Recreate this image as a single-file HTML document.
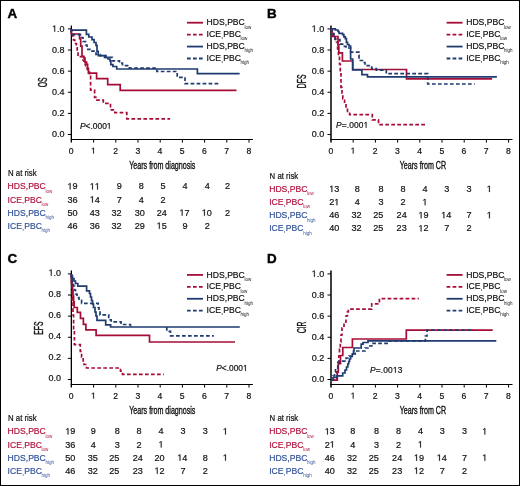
<!DOCTYPE html>
<html><head><meta charset="utf-8"><style>
html,body{margin:0;padding:0;background:#fff;}
svg{display:block;will-change:transform;font-family:"Liberation Sans", sans-serif;}
</style></head><body>
<svg width="520" height="486" viewBox="0 0 520 486" font-family='"Liberation Sans", sans-serif' fill="#111">
<rect x="0.5" y="0.5" width="519" height="485" fill="#fff" stroke="#000" stroke-width="1"/>
<g transform="translate(0,0)">
<text x="7.5" y="18.3" font-size="13.4" font-weight="bold" fill="#000" stroke="#000" stroke-width="0.4">A</text>
<path d="M71.35 25.5V142.6" stroke="#000" stroke-width="1.3" fill="none"/>
<path d="M70.7 139.5H252.9" stroke="#000" stroke-width="1.05" fill="none"/>
<path d="M67.9 134.50H71.4M67.9 113.38H71.4M67.9 92.26H71.4M67.9 71.14H71.4M67.9 50.02H71.4M67.9 28.90H71.4M93.60 139.5V142.6M115.80 139.5V142.6M138.00 139.5V142.6M160.20 139.5V142.6M182.40 139.5V142.6M204.60 139.5V142.6M226.80 139.5V142.6M249.00 139.5V142.6" stroke="#000" stroke-width="1" fill="none"/>
<text x="64.6" y="137.25" font-size="9" text-anchor="end" stroke="#111" stroke-width="0.2">0.0</text>
<text x="64.6" y="116.13" font-size="9" text-anchor="end" stroke="#111" stroke-width="0.2">0.2</text>
<text x="64.6" y="95.01" font-size="9" text-anchor="end" stroke="#111" stroke-width="0.2">0.4</text>
<text x="64.6" y="73.89" font-size="9" text-anchor="end" stroke="#111" stroke-width="0.2">0.6</text>
<text x="64.6" y="52.77" font-size="9" text-anchor="end" stroke="#111" stroke-width="0.2">0.8</text>
<text x="64.6" y="31.65" font-size="9" text-anchor="end" stroke="#111" stroke-width="0.2" class="n1"> .0</text><path transform="translate(52.08,31.65) scale(0.004395,-0.004395)" d="M515 0L515 1237L197 1010L197 1180L530 1409L696 1409L696 0Z" fill="#111" stroke="#111" stroke-width="45.5"/>
<text x="71.20" y="153.6" font-size="8.6" text-anchor="middle" stroke="#111" stroke-width="0.2">0</text>
<text x="93.40" y="153.6" font-size="8.6" text-anchor="middle" stroke="#111" stroke-width="0.2" class="n1"> </text><path transform="translate(91.01,153.60) scale(0.004199,-0.004199)" d="M515 0L515 1237L197 1010L197 1180L530 1409L696 1409L696 0Z" fill="#111" stroke="#111" stroke-width="47.6"/>
<text x="115.60" y="153.6" font-size="8.6" text-anchor="middle" stroke="#111" stroke-width="0.2">2</text>
<text x="137.80" y="153.6" font-size="8.6" text-anchor="middle" stroke="#111" stroke-width="0.2">3</text>
<text x="160.00" y="153.6" font-size="8.6" text-anchor="middle" stroke="#111" stroke-width="0.2">4</text>
<text x="182.20" y="153.6" font-size="8.6" text-anchor="middle" stroke="#111" stroke-width="0.2">5</text>
<text x="204.40" y="153.6" font-size="8.6" text-anchor="middle" stroke="#111" stroke-width="0.2">6</text>
<text x="226.60" y="153.6" font-size="8.6" text-anchor="middle" stroke="#111" stroke-width="0.2">7</text>
<text x="248.80" y="153.6" font-size="8.6" text-anchor="middle" stroke="#111" stroke-width="0.2">8</text>
<text transform="translate(129.2,168.9) scale(0.66,1)" font-size="10.8" stroke="#111" stroke-width="0.35">Years from diagnosis</text>
<text transform="translate(46.6,82.3) rotate(-90) scale(0.57,1)" font-size="12" text-anchor="middle" stroke="#111" stroke-width="0.35">OS</text>
<path d="M187 22.70H203" stroke="#a50d36" stroke-width="1.8"/>
<text x="206.6" y="25.30" font-size="8.6" stroke="#111" stroke-width="0.2">HDS,PBC<tspan font-size="4.5" dx="-0.4" dy="3.2" stroke-width="0">low</tspan></text>
<path d="M187 34.63H203" stroke="#a50d36" stroke-width="1.8" stroke-dasharray="3.7 2.3"/>
<text x="206.6" y="37.23" font-size="8.6" stroke="#111" stroke-width="0.2">ICE<tspan font-size="6.2" dx="0.3" dy="0.7">,</tspan><tspan dx="0.3" dy="-0.7">PBC</tspan><tspan font-size="4.5" dx="-0.4" dy="3.2" stroke-width="0">low</tspan></text>
<path d="M187 46.56H203" stroke="#1f3b70" stroke-width="1.8"/>
<text x="206.6" y="49.16" font-size="8.6" stroke="#111" stroke-width="0.2">HDS,PBC<tspan font-size="4.5" dx="-0.4" dy="3.2" stroke-width="0">high</tspan></text>
<path d="M187 58.49H203" stroke="#1f3b70" stroke-width="1.8" stroke-dasharray="3.7 2.3"/>
<text x="206.6" y="61.09" font-size="8.6" stroke="#111" stroke-width="0.2">ICE<tspan font-size="6.2" dx="0.3" dy="0.7">,</tspan><tspan dx="0.3" dy="-0.7">PBC</tspan><tspan font-size="4.5" dx="-0.4" dy="3.2" stroke-width="0">high</tspan></text>
<text x="80" y="128.8" font-size="8.4" stroke="#111" stroke-width="0.2" class="n1"><tspan font-style="italic">P</tspan>&lt;.000 </text><path transform="translate(106.78,128.80) scale(0.004102,-0.004102)" d="M515 0L515 1237L197 1010L197 1180L530 1409L696 1409L696 0Z" fill="#111" stroke="#111" stroke-width="48.8"/>
<text transform="translate(8,176.1) scale(0.93,1)" font-size="8.4" stroke="#111" stroke-width="0.2">N at risk</text>
<text x="7.6" y="189.40" font-size="8.6" fill="#b3153f" stroke="#b3153f" stroke-width="0.2">HDS,PBC<tspan font-size="4.5" dx="-0.4" dy="3.2" stroke-width="0">low</tspan></text>
<text x="77.55" y="189.40" font-size="9.1" text-anchor="end" stroke="#111" stroke-width="0.2" class="n1"> 9</text><path transform="translate(67.43,189.40) scale(0.004443,-0.004443)" d="M515 0L515 1237L197 1010L197 1180L530 1409L696 1409L696 0Z" fill="#111" stroke="#111" stroke-width="45.0"/>
<text x="99.85" y="189.40" font-size="9.1" text-anchor="end" stroke="#111" stroke-width="0.2" class="n1">  </text><path transform="translate(89.72,189.40) scale(0.004443,-0.004443)" d="M515 0L515 1237L197 1010L197 1180L530 1409L696 1409L696 0Z" fill="#111" stroke="#111" stroke-width="45.0"/><path transform="translate(94.77,189.40) scale(0.004443,-0.004443)" d="M515 0L515 1237L197 1010L197 1180L530 1409L696 1409L696 0Z" fill="#111" stroke="#111" stroke-width="45.0"/>
<text x="121.85" y="189.40" font-size="9.1" text-anchor="end" stroke="#111" stroke-width="0.2">9</text>
<text x="143.75" y="189.40" font-size="9.1" text-anchor="end" stroke="#111" stroke-width="0.2">8</text>
<text x="165.65" y="189.40" font-size="9.1" text-anchor="end" stroke="#111" stroke-width="0.2">5</text>
<text x="187.55" y="189.40" font-size="9.1" text-anchor="end" stroke="#111" stroke-width="0.2">4</text>
<text x="209.85" y="189.40" font-size="9.1" text-anchor="end" stroke="#111" stroke-width="0.2">4</text>
<text x="229.95" y="189.40" font-size="9.1" text-anchor="end" stroke="#111" stroke-width="0.2">2</text>
<text x="7.6" y="202.55" font-size="8.6" fill="#b3153f" stroke="#b3153f" stroke-width="0.2">ICE<tspan font-size="6.2" dx="0.3" dy="0.7">,</tspan><tspan dx="0.3" dy="-0.7">PBC</tspan><tspan font-size="4.5" dx="-0.4" dy="3.2" stroke-width="0">low</tspan></text>
<text x="77.55" y="202.55" font-size="9.1" text-anchor="end" stroke="#111" stroke-width="0.2">36</text>
<text x="99.85" y="202.55" font-size="9.1" text-anchor="end" stroke="#111" stroke-width="0.2" class="n1"> 4</text><path transform="translate(89.72,202.55) scale(0.004443,-0.004443)" d="M515 0L515 1237L197 1010L197 1180L530 1409L696 1409L696 0Z" fill="#111" stroke="#111" stroke-width="45.0"/>
<text x="121.85" y="202.55" font-size="9.1" text-anchor="end" stroke="#111" stroke-width="0.2">7</text>
<text x="143.75" y="202.55" font-size="9.1" text-anchor="end" stroke="#111" stroke-width="0.2">4</text>
<text x="165.65" y="202.55" font-size="9.1" text-anchor="end" stroke="#111" stroke-width="0.2">2</text>
<text x="7.6" y="215.70" font-size="8.6" fill="#34549a" stroke="#34549a" stroke-width="0.2">HDS,PBC<tspan font-size="4.5" dx="-0.4" dy="3.2" stroke-width="0">high</tspan></text>
<text x="77.55" y="215.70" font-size="9.1" text-anchor="end" stroke="#111" stroke-width="0.2">50</text>
<text x="99.85" y="215.70" font-size="9.1" text-anchor="end" stroke="#111" stroke-width="0.2">43</text>
<text x="121.55" y="215.70" font-size="9.1" text-anchor="end" stroke="#111" stroke-width="0.2">32</text>
<text x="144.95" y="215.70" font-size="9.1" text-anchor="end" stroke="#111" stroke-width="0.2">30</text>
<text x="166.75" y="215.70" font-size="9.1" text-anchor="end" stroke="#111" stroke-width="0.2">24</text>
<text x="189.55" y="215.70" font-size="9.1" text-anchor="end" stroke="#111" stroke-width="0.2" class="n1"> 7</text><path transform="translate(179.43,215.70) scale(0.004443,-0.004443)" d="M515 0L515 1237L197 1010L197 1180L530 1409L696 1409L696 0Z" fill="#111" stroke="#111" stroke-width="45.0"/>
<text x="211.85" y="215.70" font-size="9.1" text-anchor="end" stroke="#111" stroke-width="0.2" class="n1"> 0</text><path transform="translate(201.73,215.70) scale(0.004443,-0.004443)" d="M515 0L515 1237L197 1010L197 1180L530 1409L696 1409L696 0Z" fill="#111" stroke="#111" stroke-width="45.0"/>
<text x="229.95" y="215.70" font-size="9.1" text-anchor="end" stroke="#111" stroke-width="0.2">2</text>
<text x="7.6" y="228.85" font-size="8.6" fill="#34549a" stroke="#34549a" stroke-width="0.2">ICE<tspan font-size="6.2" dx="0.3" dy="0.7">,</tspan><tspan dx="0.3" dy="-0.7">PBC</tspan><tspan font-size="4.5" dx="-0.4" dy="3.2" stroke-width="0">high</tspan></text>
<text x="77.55" y="228.85" font-size="9.1" text-anchor="end" stroke="#111" stroke-width="0.2">46</text>
<text x="99.85" y="228.85" font-size="9.1" text-anchor="end" stroke="#111" stroke-width="0.2">36</text>
<text x="121.55" y="228.85" font-size="9.1" text-anchor="end" stroke="#111" stroke-width="0.2">32</text>
<text x="144.95" y="228.85" font-size="9.1" text-anchor="end" stroke="#111" stroke-width="0.2">29</text>
<text x="166.75" y="228.85" font-size="9.1" text-anchor="end" stroke="#111" stroke-width="0.2" class="n1"> 5</text><path transform="translate(156.62,228.85) scale(0.004443,-0.004443)" d="M515 0L515 1237L197 1010L197 1180L530 1409L696 1409L696 0Z" fill="#111" stroke="#111" stroke-width="45.0"/>
<text x="187.55" y="228.85" font-size="9.1" text-anchor="end" stroke="#111" stroke-width="0.2">9</text>
<text x="209.85" y="228.85" font-size="9.1" text-anchor="end" stroke="#111" stroke-width="0.2">2</text>
</g>
<g transform="translate(259.6,0)">
<text x="7.5" y="18.3" font-size="13.4" font-weight="bold" fill="#000" stroke="#000" stroke-width="0.4">B</text>
<path d="M71.4 25.5V142.6" stroke="#000" stroke-width="1.5" fill="none"/>
<path d="M70.7 139.5H252.9" stroke="#000" stroke-width="1.05" fill="none"/>
<path d="M67.9 134.50H71.4M67.9 113.38H71.4M67.9 92.26H71.4M67.9 71.14H71.4M67.9 50.02H71.4M67.9 28.90H71.4M93.60 139.5V142.6M115.80 139.5V142.6M138.00 139.5V142.6M160.20 139.5V142.6M182.40 139.5V142.6M204.60 139.5V142.6M226.80 139.5V142.6M249.00 139.5V142.6" stroke="#000" stroke-width="1" fill="none"/>
<text x="64.6" y="137.25" font-size="9" text-anchor="end" stroke="#111" stroke-width="0.2">0.0</text>
<text x="64.6" y="116.13" font-size="9" text-anchor="end" stroke="#111" stroke-width="0.2">0.2</text>
<text x="64.6" y="95.01" font-size="9" text-anchor="end" stroke="#111" stroke-width="0.2">0.4</text>
<text x="64.6" y="73.89" font-size="9" text-anchor="end" stroke="#111" stroke-width="0.2">0.6</text>
<text x="64.6" y="52.77" font-size="9" text-anchor="end" stroke="#111" stroke-width="0.2">0.8</text>
<text x="64.6" y="31.65" font-size="9" text-anchor="end" stroke="#111" stroke-width="0.2" class="n1"> .0</text><path transform="translate(52.08,31.65) scale(0.004395,-0.004395)" d="M515 0L515 1237L197 1010L197 1180L530 1409L696 1409L696 0Z" fill="#111" stroke="#111" stroke-width="45.5"/>
<text x="71.20" y="153.6" font-size="8.6" text-anchor="middle" stroke="#111" stroke-width="0.2">0</text>
<text x="93.40" y="153.6" font-size="8.6" text-anchor="middle" stroke="#111" stroke-width="0.2" class="n1"> </text><path transform="translate(91.01,153.60) scale(0.004199,-0.004199)" d="M515 0L515 1237L197 1010L197 1180L530 1409L696 1409L696 0Z" fill="#111" stroke="#111" stroke-width="47.6"/>
<text x="115.60" y="153.6" font-size="8.6" text-anchor="middle" stroke="#111" stroke-width="0.2">2</text>
<text x="137.80" y="153.6" font-size="8.6" text-anchor="middle" stroke="#111" stroke-width="0.2">3</text>
<text x="160.00" y="153.6" font-size="8.6" text-anchor="middle" stroke="#111" stroke-width="0.2">4</text>
<text x="182.20" y="153.6" font-size="8.6" text-anchor="middle" stroke="#111" stroke-width="0.2">5</text>
<text x="204.40" y="153.6" font-size="8.6" text-anchor="middle" stroke="#111" stroke-width="0.2">6</text>
<text x="226.60" y="153.6" font-size="8.6" text-anchor="middle" stroke="#111" stroke-width="0.2">7</text>
<text x="248.80" y="153.6" font-size="8.6" text-anchor="middle" stroke="#111" stroke-width="0.2">8</text>
<text transform="translate(140.1,168.9) scale(0.66,1)" font-size="10.8" stroke="#111" stroke-width="0.35">Years from CR</text>
<text transform="translate(46.4,81.3) rotate(-90) scale(0.57,1)" font-size="12" text-anchor="middle" stroke="#111" stroke-width="0.35">DFS</text>
<path d="M187 22.70H203" stroke="#a50d36" stroke-width="1.8"/>
<text x="206.6" y="25.30" font-size="8.6" stroke="#111" stroke-width="0.2">HDS,PBC<tspan font-size="4.5" dx="-0.4" dy="3.2" stroke-width="0">low</tspan></text>
<path d="M187 34.63H203" stroke="#a50d36" stroke-width="1.8" stroke-dasharray="3.7 2.3"/>
<text x="206.6" y="37.23" font-size="8.6" stroke="#111" stroke-width="0.2">ICE<tspan font-size="6.2" dx="0.3" dy="0.7">,</tspan><tspan dx="0.3" dy="-0.7">PBC</tspan><tspan font-size="4.5" dx="-0.4" dy="3.2" stroke-width="0">low</tspan></text>
<path d="M187 46.56H203" stroke="#1f3b70" stroke-width="1.8"/>
<text x="206.6" y="49.16" font-size="8.6" stroke="#111" stroke-width="0.2">HDS,PBC<tspan font-size="4.5" dx="-0.4" dy="3.2" stroke-width="0">high</tspan></text>
<path d="M187 58.49H203" stroke="#1f3b70" stroke-width="1.8" stroke-dasharray="3.7 2.3"/>
<text x="206.6" y="61.09" font-size="8.6" stroke="#111" stroke-width="0.2">ICE<tspan font-size="6.2" dx="0.3" dy="0.7">,</tspan><tspan dx="0.3" dy="-0.7">PBC</tspan><tspan font-size="4.5" dx="-0.4" dy="3.2" stroke-width="0">high</tspan></text>
<text x="76.3" y="127.8" font-size="8.4" letter-spacing="0.15" stroke="#111" stroke-width="0.2" class="n1"><tspan font-style="italic">P</tspan>=.000 </text><path transform="translate(103.99,127.80) scale(0.004102,-0.004102)" d="M515 0L515 1237L197 1010L197 1180L530 1409L696 1409L696 0Z" fill="#111" stroke="#111" stroke-width="48.8"/>
<text transform="translate(10.0,179.0) scale(0.93,1)" font-size="8.4" stroke="#111" stroke-width="0.2">N at risk</text>
<text x="9.6" y="192.00" font-size="8.6" fill="#b3153f" stroke="#b3153f" stroke-width="0.2">HDS,PBC<tspan font-size="4.5" dx="-0.4" dy="3.2" stroke-width="0">low</tspan></text>
<text x="79.75" y="192.00" font-size="9.1" text-anchor="end" stroke="#111" stroke-width="0.2" class="n1"> 3</text><path transform="translate(69.62,192.00) scale(0.004443,-0.004443)" d="M515 0L515 1237L197 1010L197 1180L530 1409L696 1409L696 0Z" fill="#111" stroke="#111" stroke-width="45.0"/>
<text x="100.15" y="192.00" font-size="9.1" text-anchor="end" stroke="#111" stroke-width="0.2">8</text>
<text x="124.05" y="192.00" font-size="9.1" text-anchor="end" stroke="#111" stroke-width="0.2">8</text>
<text x="145.95" y="192.00" font-size="9.1" text-anchor="end" stroke="#111" stroke-width="0.2">8</text>
<text x="167.85" y="192.00" font-size="9.1" text-anchor="end" stroke="#111" stroke-width="0.2">4</text>
<text x="189.75" y="192.00" font-size="9.1" text-anchor="end" stroke="#111" stroke-width="0.2">3</text>
<text x="212.05" y="192.00" font-size="9.1" text-anchor="end" stroke="#111" stroke-width="0.2">3</text>
<text x="232.15" y="192.00" font-size="9.1" text-anchor="end" stroke="#111" stroke-width="0.2" class="n1"> </text><path transform="translate(227.09,192.00) scale(0.004443,-0.004443)" d="M515 0L515 1237L197 1010L197 1180L530 1409L696 1409L696 0Z" fill="#111" stroke="#111" stroke-width="45.0"/>
<text x="9.6" y="205.15" font-size="8.6" fill="#b3153f" stroke="#b3153f" stroke-width="0.2">ICE<tspan font-size="6.2" dx="0.3" dy="0.7">,</tspan><tspan dx="0.3" dy="-0.7">PBC</tspan><tspan font-size="4.5" dx="-0.4" dy="3.2" stroke-width="0">low</tspan></text>
<text x="79.75" y="205.15" font-size="9.1" text-anchor="end" stroke="#111" stroke-width="0.2" class="n1">2 </text><path transform="translate(74.67,205.15) scale(0.004443,-0.004443)" d="M515 0L515 1237L197 1010L197 1180L530 1409L696 1409L696 0Z" fill="#111" stroke="#111" stroke-width="45.0"/>
<text x="100.15" y="205.15" font-size="9.1" text-anchor="end" stroke="#111" stroke-width="0.2">4</text>
<text x="124.05" y="205.15" font-size="9.1" text-anchor="end" stroke="#111" stroke-width="0.2">3</text>
<text x="145.95" y="205.15" font-size="9.1" text-anchor="end" stroke="#111" stroke-width="0.2">2</text>
<text x="167.85" y="205.15" font-size="9.1" text-anchor="end" stroke="#111" stroke-width="0.2" class="n1"> </text><path transform="translate(162.79,205.15) scale(0.004443,-0.004443)" d="M515 0L515 1237L197 1010L197 1180L530 1409L696 1409L696 0Z" fill="#111" stroke="#111" stroke-width="45.0"/>
<text x="9.6" y="218.30" font-size="8.6" fill="#34549a" stroke="#34549a" stroke-width="0.2">HDS,PBC<tspan font-size="4.5" dx="-0.4" dy="3.2" stroke-width="0">high</tspan></text>
<text x="79.75" y="218.30" font-size="9.1" text-anchor="end" stroke="#111" stroke-width="0.2">46</text>
<text x="102.05" y="218.30" font-size="9.1" text-anchor="end" stroke="#111" stroke-width="0.2">32</text>
<text x="123.75" y="218.30" font-size="9.1" text-anchor="end" stroke="#111" stroke-width="0.2">25</text>
<text x="147.15" y="218.30" font-size="9.1" text-anchor="end" stroke="#111" stroke-width="0.2">24</text>
<text x="168.95" y="218.30" font-size="9.1" text-anchor="end" stroke="#111" stroke-width="0.2" class="n1"> 9</text><path transform="translate(158.82,218.30) scale(0.004443,-0.004443)" d="M515 0L515 1237L197 1010L197 1180L530 1409L696 1409L696 0Z" fill="#111" stroke="#111" stroke-width="45.0"/>
<text x="191.75" y="218.30" font-size="9.1" text-anchor="end" stroke="#111" stroke-width="0.2" class="n1"> 4</text><path transform="translate(181.62,218.30) scale(0.004443,-0.004443)" d="M515 0L515 1237L197 1010L197 1180L530 1409L696 1409L696 0Z" fill="#111" stroke="#111" stroke-width="45.0"/>
<text x="212.05" y="218.30" font-size="9.1" text-anchor="end" stroke="#111" stroke-width="0.2">7</text>
<text x="232.15" y="218.30" font-size="9.1" text-anchor="end" stroke="#111" stroke-width="0.2" class="n1"> </text><path transform="translate(227.09,218.30) scale(0.004443,-0.004443)" d="M515 0L515 1237L197 1010L197 1180L530 1409L696 1409L696 0Z" fill="#111" stroke="#111" stroke-width="45.0"/>
<text x="9.6" y="231.45" font-size="8.6" fill="#34549a" stroke="#34549a" stroke-width="0.2">ICE<tspan font-size="6.2" dx="0.3" dy="0.7">,</tspan><tspan dx="0.3" dy="-0.7">PBC</tspan><tspan font-size="4.5" dx="-0.4" dy="3.2" stroke-width="0">high</tspan></text>
<text x="79.75" y="231.45" font-size="9.1" text-anchor="end" stroke="#111" stroke-width="0.2">40</text>
<text x="102.05" y="231.45" font-size="9.1" text-anchor="end" stroke="#111" stroke-width="0.2">32</text>
<text x="123.75" y="231.45" font-size="9.1" text-anchor="end" stroke="#111" stroke-width="0.2">25</text>
<text x="147.15" y="231.45" font-size="9.1" text-anchor="end" stroke="#111" stroke-width="0.2">23</text>
<text x="168.95" y="231.45" font-size="9.1" text-anchor="end" stroke="#111" stroke-width="0.2" class="n1"> 2</text><path transform="translate(158.82,231.45) scale(0.004443,-0.004443)" d="M515 0L515 1237L197 1010L197 1180L530 1409L696 1409L696 0Z" fill="#111" stroke="#111" stroke-width="45.0"/>
<text x="189.75" y="231.45" font-size="9.1" text-anchor="end" stroke="#111" stroke-width="0.2">7</text>
<text x="212.05" y="231.45" font-size="9.1" text-anchor="end" stroke="#111" stroke-width="0.2">2</text>
</g>
<g transform="translate(0,245)">
<text x="7.5" y="18.3" font-size="13.4" font-weight="bold" fill="#000" stroke="#000" stroke-width="0.4">C</text>
<path d="M71.35 25.5V142.6" stroke="#000" stroke-width="1.3" fill="none"/>
<path d="M70.7 139.5H252.9" stroke="#000" stroke-width="1.05" fill="none"/>
<path d="M67.9 134.50H71.4M67.9 113.38H71.4M67.9 92.26H71.4M67.9 71.14H71.4M67.9 50.02H71.4M67.9 28.90H71.4M93.60 139.5V142.6M115.80 139.5V142.6M138.00 139.5V142.6M160.20 139.5V142.6M182.40 139.5V142.6M204.60 139.5V142.6M226.80 139.5V142.6M249.00 139.5V142.6" stroke="#000" stroke-width="1" fill="none"/>
<text x="61.1" y="136.35" font-size="9" text-anchor="end" stroke="#111" stroke-width="0.2">0.0</text>
<text x="61.1" y="115.23" font-size="9" text-anchor="end" stroke="#111" stroke-width="0.2">0.2</text>
<text x="61.1" y="94.11" font-size="9" text-anchor="end" stroke="#111" stroke-width="0.2">0.4</text>
<text x="61.1" y="72.99" font-size="9" text-anchor="end" stroke="#111" stroke-width="0.2">0.6</text>
<text x="61.1" y="51.87" font-size="9" text-anchor="end" stroke="#111" stroke-width="0.2">0.8</text>
<text x="61.1" y="30.75" font-size="9" text-anchor="end" stroke="#111" stroke-width="0.2" class="n1"> .0</text><path transform="translate(48.58,30.75) scale(0.004395,-0.004395)" d="M515 0L515 1237L197 1010L197 1180L530 1409L696 1409L696 0Z" fill="#111" stroke="#111" stroke-width="45.5"/>
<text x="71.20" y="153.6" font-size="8.6" text-anchor="middle" stroke="#111" stroke-width="0.2">0</text>
<text x="93.40" y="153.6" font-size="8.6" text-anchor="middle" stroke="#111" stroke-width="0.2" class="n1"> </text><path transform="translate(91.01,153.60) scale(0.004199,-0.004199)" d="M515 0L515 1237L197 1010L197 1180L530 1409L696 1409L696 0Z" fill="#111" stroke="#111" stroke-width="47.6"/>
<text x="115.60" y="153.6" font-size="8.6" text-anchor="middle" stroke="#111" stroke-width="0.2">2</text>
<text x="137.80" y="153.6" font-size="8.6" text-anchor="middle" stroke="#111" stroke-width="0.2">3</text>
<text x="160.00" y="153.6" font-size="8.6" text-anchor="middle" stroke="#111" stroke-width="0.2">4</text>
<text x="182.20" y="153.6" font-size="8.6" text-anchor="middle" stroke="#111" stroke-width="0.2">5</text>
<text x="204.40" y="153.6" font-size="8.6" text-anchor="middle" stroke="#111" stroke-width="0.2">6</text>
<text x="226.60" y="153.6" font-size="8.6" text-anchor="middle" stroke="#111" stroke-width="0.2">7</text>
<text x="248.80" y="153.6" font-size="8.6" text-anchor="middle" stroke="#111" stroke-width="0.2">8</text>
<text transform="translate(129.2,168.9) scale(0.66,1)" font-size="10.8" stroke="#111" stroke-width="0.35">Years from diagnosis</text>
<text transform="translate(43.300000000000004,83.1) rotate(-90) scale(0.57,1)" font-size="12" text-anchor="middle" stroke="#111" stroke-width="0.35">EFS</text>
<path d="M187 29.90H203" stroke="#a50d36" stroke-width="1.8"/>
<text x="206.6" y="32.50" font-size="8.6" stroke="#111" stroke-width="0.2">HDS,PBC<tspan font-size="4.5" dx="-0.4" dy="3.2" stroke-width="0">low</tspan></text>
<path d="M187 41.83H203" stroke="#a50d36" stroke-width="1.8" stroke-dasharray="3.7 2.3"/>
<text x="206.6" y="44.43" font-size="8.6" stroke="#111" stroke-width="0.2">ICE<tspan font-size="6.2" dx="0.3" dy="0.7">,</tspan><tspan dx="0.3" dy="-0.7">PBC</tspan><tspan font-size="4.5" dx="-0.4" dy="3.2" stroke-width="0">low</tspan></text>
<path d="M187 53.76H203" stroke="#1f3b70" stroke-width="1.8"/>
<text x="206.6" y="56.36" font-size="8.6" stroke="#111" stroke-width="0.2">HDS,PBC<tspan font-size="4.5" dx="-0.4" dy="3.2" stroke-width="0">high</tspan></text>
<path d="M187 65.69H203" stroke="#1f3b70" stroke-width="1.8" stroke-dasharray="3.7 2.3"/>
<text x="206.6" y="68.29" font-size="8.6" stroke="#111" stroke-width="0.2">ICE<tspan font-size="6.2" dx="0.3" dy="0.7">,</tspan><tspan dx="0.3" dy="-0.7">PBC</tspan><tspan font-size="4.5" dx="-0.4" dy="3.2" stroke-width="0">high</tspan></text>
<text x="216.2" y="125.9" font-size="8.4" stroke="#111" stroke-width="0.2" class="n1"><tspan font-style="italic">P</tspan>&lt;.000 </text><path transform="translate(242.98,125.90) scale(0.004102,-0.004102)" d="M515 0L515 1237L197 1010L197 1180L530 1409L696 1409L696 0Z" fill="#111" stroke="#111" stroke-width="48.8"/>
<text transform="translate(8,176.1) scale(0.93,1)" font-size="8.4" stroke="#111" stroke-width="0.2">N at risk</text>
<text x="7.6" y="189.40" font-size="8.6" fill="#b3153f" stroke="#b3153f" stroke-width="0.2">HDS,PBC<tspan font-size="4.5" dx="-0.4" dy="3.2" stroke-width="0">low</tspan></text>
<text x="75.45" y="189.40" font-size="9.1" text-anchor="end" stroke="#111" stroke-width="0.2" class="n1"> 9</text><path transform="translate(65.32,189.40) scale(0.004443,-0.004443)" d="M515 0L515 1237L197 1010L197 1180L530 1409L696 1409L696 0Z" fill="#111" stroke="#111" stroke-width="45.0"/>
<text x="95.85" y="189.40" font-size="9.1" text-anchor="end" stroke="#111" stroke-width="0.2">9</text>
<text x="119.75" y="189.40" font-size="9.1" text-anchor="end" stroke="#111" stroke-width="0.2">8</text>
<text x="141.65" y="189.40" font-size="9.1" text-anchor="end" stroke="#111" stroke-width="0.2">8</text>
<text x="163.55" y="189.40" font-size="9.1" text-anchor="end" stroke="#111" stroke-width="0.2">4</text>
<text x="185.45" y="189.40" font-size="9.1" text-anchor="end" stroke="#111" stroke-width="0.2">3</text>
<text x="207.75" y="189.40" font-size="9.1" text-anchor="end" stroke="#111" stroke-width="0.2">3</text>
<text x="227.85" y="189.40" font-size="9.1" text-anchor="end" stroke="#111" stroke-width="0.2" class="n1"> </text><path transform="translate(222.79,189.40) scale(0.004443,-0.004443)" d="M515 0L515 1237L197 1010L197 1180L530 1409L696 1409L696 0Z" fill="#111" stroke="#111" stroke-width="45.0"/>
<text x="7.6" y="202.55" font-size="8.6" fill="#b3153f" stroke="#b3153f" stroke-width="0.2">ICE<tspan font-size="6.2" dx="0.3" dy="0.7">,</tspan><tspan dx="0.3" dy="-0.7">PBC</tspan><tspan font-size="4.5" dx="-0.4" dy="3.2" stroke-width="0">low</tspan></text>
<text x="75.45" y="202.55" font-size="9.1" text-anchor="end" stroke="#111" stroke-width="0.2">36</text>
<text x="95.85" y="202.55" font-size="9.1" text-anchor="end" stroke="#111" stroke-width="0.2">4</text>
<text x="119.75" y="202.55" font-size="9.1" text-anchor="end" stroke="#111" stroke-width="0.2">3</text>
<text x="141.65" y="202.55" font-size="9.1" text-anchor="end" stroke="#111" stroke-width="0.2">2</text>
<text x="163.55" y="202.55" font-size="9.1" text-anchor="end" stroke="#111" stroke-width="0.2" class="n1"> </text><path transform="translate(158.49,202.55) scale(0.004443,-0.004443)" d="M515 0L515 1237L197 1010L197 1180L530 1409L696 1409L696 0Z" fill="#111" stroke="#111" stroke-width="45.0"/>
<text x="7.6" y="215.70" font-size="8.6" fill="#34549a" stroke="#34549a" stroke-width="0.2">HDS,PBC<tspan font-size="4.5" dx="-0.4" dy="3.2" stroke-width="0">high</tspan></text>
<text x="75.45" y="215.70" font-size="9.1" text-anchor="end" stroke="#111" stroke-width="0.2">50</text>
<text x="97.75" y="215.70" font-size="9.1" text-anchor="end" stroke="#111" stroke-width="0.2">35</text>
<text x="119.45" y="215.70" font-size="9.1" text-anchor="end" stroke="#111" stroke-width="0.2">25</text>
<text x="142.85" y="215.70" font-size="9.1" text-anchor="end" stroke="#111" stroke-width="0.2">24</text>
<text x="164.65" y="215.70" font-size="9.1" text-anchor="end" stroke="#111" stroke-width="0.2">20</text>
<text x="187.45" y="215.70" font-size="9.1" text-anchor="end" stroke="#111" stroke-width="0.2" class="n1"> 4</text><path transform="translate(177.32,215.70) scale(0.004443,-0.004443)" d="M515 0L515 1237L197 1010L197 1180L530 1409L696 1409L696 0Z" fill="#111" stroke="#111" stroke-width="45.0"/>
<text x="207.75" y="215.70" font-size="9.1" text-anchor="end" stroke="#111" stroke-width="0.2">8</text>
<text x="227.85" y="215.70" font-size="9.1" text-anchor="end" stroke="#111" stroke-width="0.2" class="n1"> </text><path transform="translate(222.79,215.70) scale(0.004443,-0.004443)" d="M515 0L515 1237L197 1010L197 1180L530 1409L696 1409L696 0Z" fill="#111" stroke="#111" stroke-width="45.0"/>
<text x="7.6" y="228.85" font-size="8.6" fill="#34549a" stroke="#34549a" stroke-width="0.2">ICE<tspan font-size="6.2" dx="0.3" dy="0.7">,</tspan><tspan dx="0.3" dy="-0.7">PBC</tspan><tspan font-size="4.5" dx="-0.4" dy="3.2" stroke-width="0">high</tspan></text>
<text x="75.45" y="228.85" font-size="9.1" text-anchor="end" stroke="#111" stroke-width="0.2">46</text>
<text x="97.75" y="228.85" font-size="9.1" text-anchor="end" stroke="#111" stroke-width="0.2">32</text>
<text x="119.45" y="228.85" font-size="9.1" text-anchor="end" stroke="#111" stroke-width="0.2">25</text>
<text x="142.85" y="228.85" font-size="9.1" text-anchor="end" stroke="#111" stroke-width="0.2">23</text>
<text x="164.65" y="228.85" font-size="9.1" text-anchor="end" stroke="#111" stroke-width="0.2" class="n1"> 2</text><path transform="translate(154.52,228.85) scale(0.004443,-0.004443)" d="M515 0L515 1237L197 1010L197 1180L530 1409L696 1409L696 0Z" fill="#111" stroke="#111" stroke-width="45.0"/>
<text x="185.45" y="228.85" font-size="9.1" text-anchor="end" stroke="#111" stroke-width="0.2">7</text>
<text x="207.75" y="228.85" font-size="9.1" text-anchor="end" stroke="#111" stroke-width="0.2">2</text>
</g>
<g transform="translate(259.6,245)">
<text x="7.5" y="18.3" font-size="13.4" font-weight="bold" fill="#000" stroke="#000" stroke-width="0.4">D</text>
<path d="M71.4 25.5V142.6" stroke="#000" stroke-width="1.5" fill="none"/>
<path d="M70.7 139.5H252.9" stroke="#000" stroke-width="1.05" fill="none"/>
<path d="M67.9 134.50H71.4M67.9 113.38H71.4M67.9 92.26H71.4M67.9 71.14H71.4M67.9 50.02H71.4M67.9 28.90H71.4M93.60 139.5V142.6M115.80 139.5V142.6M138.00 139.5V142.6M160.20 139.5V142.6M182.40 139.5V142.6M204.60 139.5V142.6M226.80 139.5V142.6M249.00 139.5V142.6" stroke="#000" stroke-width="1" fill="none"/>
<text x="64.6" y="137.25" font-size="9" text-anchor="end" stroke="#111" stroke-width="0.2">0.0</text>
<text x="64.6" y="116.13" font-size="9" text-anchor="end" stroke="#111" stroke-width="0.2">0.2</text>
<text x="64.6" y="95.01" font-size="9" text-anchor="end" stroke="#111" stroke-width="0.2">0.4</text>
<text x="64.6" y="73.89" font-size="9" text-anchor="end" stroke="#111" stroke-width="0.2">0.6</text>
<text x="64.6" y="52.77" font-size="9" text-anchor="end" stroke="#111" stroke-width="0.2">0.8</text>
<text x="64.6" y="31.65" font-size="9" text-anchor="end" stroke="#111" stroke-width="0.2" class="n1"> .0</text><path transform="translate(52.08,31.65) scale(0.004395,-0.004395)" d="M515 0L515 1237L197 1010L197 1180L530 1409L696 1409L696 0Z" fill="#111" stroke="#111" stroke-width="45.5"/>
<text x="71.20" y="153.6" font-size="8.6" text-anchor="middle" stroke="#111" stroke-width="0.2">0</text>
<text x="93.40" y="153.6" font-size="8.6" text-anchor="middle" stroke="#111" stroke-width="0.2" class="n1"> </text><path transform="translate(91.01,153.60) scale(0.004199,-0.004199)" d="M515 0L515 1237L197 1010L197 1180L530 1409L696 1409L696 0Z" fill="#111" stroke="#111" stroke-width="47.6"/>
<text x="115.60" y="153.6" font-size="8.6" text-anchor="middle" stroke="#111" stroke-width="0.2">2</text>
<text x="137.80" y="153.6" font-size="8.6" text-anchor="middle" stroke="#111" stroke-width="0.2">3</text>
<text x="160.00" y="153.6" font-size="8.6" text-anchor="middle" stroke="#111" stroke-width="0.2">4</text>
<text x="182.20" y="153.6" font-size="8.6" text-anchor="middle" stroke="#111" stroke-width="0.2">5</text>
<text x="204.40" y="153.6" font-size="8.6" text-anchor="middle" stroke="#111" stroke-width="0.2">6</text>
<text x="226.60" y="153.6" font-size="8.6" text-anchor="middle" stroke="#111" stroke-width="0.2">7</text>
<text x="248.80" y="153.6" font-size="8.6" text-anchor="middle" stroke="#111" stroke-width="0.2">8</text>
<text transform="translate(140.1,168.9) scale(0.66,1)" font-size="10.8" stroke="#111" stroke-width="0.35">Years from CR</text>
<text transform="translate(46.4,82.4) rotate(-90) scale(0.57,1)" font-size="12" text-anchor="middle" stroke="#111" stroke-width="0.35">CIR</text>
<path d="M187 29.90H203" stroke="#a50d36" stroke-width="1.8"/>
<text x="206.6" y="32.50" font-size="8.6" stroke="#111" stroke-width="0.2">HDS,PBC<tspan font-size="4.5" dx="-0.4" dy="3.2" stroke-width="0">low</tspan></text>
<path d="M187 41.83H203" stroke="#a50d36" stroke-width="1.8" stroke-dasharray="3.7 2.3"/>
<text x="206.6" y="44.43" font-size="8.6" stroke="#111" stroke-width="0.2">ICE<tspan font-size="6.2" dx="0.3" dy="0.7">,</tspan><tspan dx="0.3" dy="-0.7">PBC</tspan><tspan font-size="4.5" dx="-0.4" dy="3.2" stroke-width="0">low</tspan></text>
<path d="M187 53.76H203" stroke="#1f3b70" stroke-width="1.8"/>
<text x="206.6" y="56.36" font-size="8.6" stroke="#111" stroke-width="0.2">HDS,PBC<tspan font-size="4.5" dx="-0.4" dy="3.2" stroke-width="0">high</tspan></text>
<path d="M187 65.69H203" stroke="#1f3b70" stroke-width="1.8" stroke-dasharray="3.7 2.3"/>
<text x="206.6" y="68.29" font-size="8.6" stroke="#111" stroke-width="0.2">ICE<tspan font-size="6.2" dx="0.3" dy="0.7">,</tspan><tspan dx="0.3" dy="-0.7">PBC</tspan><tspan font-size="4.5" dx="-0.4" dy="3.2" stroke-width="0">high</tspan></text>
<text x="110.4" y="127.8" font-size="8.4" letter-spacing="0.15" stroke="#111" stroke-width="0.2" class="n1"><tspan font-style="italic">P</tspan>=.00 3</text><path transform="translate(133.27,127.80) scale(0.004102,-0.004102)" d="M515 0L515 1237L197 1010L197 1180L530 1409L696 1409L696 0Z" fill="#111" stroke="#111" stroke-width="48.8"/>
<text transform="translate(10.0,176.1) scale(0.93,1)" font-size="8.4" stroke="#111" stroke-width="0.2">N at risk</text>
<text x="9.6" y="189.40" font-size="8.6" fill="#b3153f" stroke="#b3153f" stroke-width="0.2">HDS,PBC<tspan font-size="4.5" dx="-0.4" dy="3.2" stroke-width="0">low</tspan></text>
<text x="75.25" y="189.40" font-size="9.1" text-anchor="end" stroke="#111" stroke-width="0.2" class="n1"> 3</text><path transform="translate(65.12,189.40) scale(0.004443,-0.004443)" d="M515 0L515 1237L197 1010L197 1180L530 1409L696 1409L696 0Z" fill="#111" stroke="#111" stroke-width="45.0"/>
<text x="95.65" y="189.40" font-size="9.1" text-anchor="end" stroke="#111" stroke-width="0.2">8</text>
<text x="119.55" y="189.40" font-size="9.1" text-anchor="end" stroke="#111" stroke-width="0.2">8</text>
<text x="141.45" y="189.40" font-size="9.1" text-anchor="end" stroke="#111" stroke-width="0.2">8</text>
<text x="163.35" y="189.40" font-size="9.1" text-anchor="end" stroke="#111" stroke-width="0.2">4</text>
<text x="185.25" y="189.40" font-size="9.1" text-anchor="end" stroke="#111" stroke-width="0.2">3</text>
<text x="207.55" y="189.40" font-size="9.1" text-anchor="end" stroke="#111" stroke-width="0.2">3</text>
<text x="227.65" y="189.40" font-size="9.1" text-anchor="end" stroke="#111" stroke-width="0.2" class="n1"> </text><path transform="translate(222.59,189.40) scale(0.004443,-0.004443)" d="M515 0L515 1237L197 1010L197 1180L530 1409L696 1409L696 0Z" fill="#111" stroke="#111" stroke-width="45.0"/>
<text x="9.6" y="202.55" font-size="8.6" fill="#b3153f" stroke="#b3153f" stroke-width="0.2">ICE<tspan font-size="6.2" dx="0.3" dy="0.7">,</tspan><tspan dx="0.3" dy="-0.7">PBC</tspan><tspan font-size="4.5" dx="-0.4" dy="3.2" stroke-width="0">low</tspan></text>
<text x="75.25" y="202.55" font-size="9.1" text-anchor="end" stroke="#111" stroke-width="0.2" class="n1">2 </text><path transform="translate(70.17,202.55) scale(0.004443,-0.004443)" d="M515 0L515 1237L197 1010L197 1180L530 1409L696 1409L696 0Z" fill="#111" stroke="#111" stroke-width="45.0"/>
<text x="95.65" y="202.55" font-size="9.1" text-anchor="end" stroke="#111" stroke-width="0.2">4</text>
<text x="119.55" y="202.55" font-size="9.1" text-anchor="end" stroke="#111" stroke-width="0.2">3</text>
<text x="141.45" y="202.55" font-size="9.1" text-anchor="end" stroke="#111" stroke-width="0.2">2</text>
<text x="163.35" y="202.55" font-size="9.1" text-anchor="end" stroke="#111" stroke-width="0.2" class="n1"> </text><path transform="translate(158.29,202.55) scale(0.004443,-0.004443)" d="M515 0L515 1237L197 1010L197 1180L530 1409L696 1409L696 0Z" fill="#111" stroke="#111" stroke-width="45.0"/>
<text x="9.6" y="215.70" font-size="8.6" fill="#34549a" stroke="#34549a" stroke-width="0.2">HDS,PBC<tspan font-size="4.5" dx="-0.4" dy="3.2" stroke-width="0">high</tspan></text>
<text x="75.25" y="215.70" font-size="9.1" text-anchor="end" stroke="#111" stroke-width="0.2">46</text>
<text x="97.55" y="215.70" font-size="9.1" text-anchor="end" stroke="#111" stroke-width="0.2">32</text>
<text x="119.25" y="215.70" font-size="9.1" text-anchor="end" stroke="#111" stroke-width="0.2">25</text>
<text x="142.65" y="215.70" font-size="9.1" text-anchor="end" stroke="#111" stroke-width="0.2">24</text>
<text x="164.45" y="215.70" font-size="9.1" text-anchor="end" stroke="#111" stroke-width="0.2" class="n1"> 9</text><path transform="translate(154.32,215.70) scale(0.004443,-0.004443)" d="M515 0L515 1237L197 1010L197 1180L530 1409L696 1409L696 0Z" fill="#111" stroke="#111" stroke-width="45.0"/>
<text x="187.25" y="215.70" font-size="9.1" text-anchor="end" stroke="#111" stroke-width="0.2" class="n1"> 4</text><path transform="translate(177.12,215.70) scale(0.004443,-0.004443)" d="M515 0L515 1237L197 1010L197 1180L530 1409L696 1409L696 0Z" fill="#111" stroke="#111" stroke-width="45.0"/>
<text x="207.55" y="215.70" font-size="9.1" text-anchor="end" stroke="#111" stroke-width="0.2">7</text>
<text x="227.65" y="215.70" font-size="9.1" text-anchor="end" stroke="#111" stroke-width="0.2" class="n1"> </text><path transform="translate(222.59,215.70) scale(0.004443,-0.004443)" d="M515 0L515 1237L197 1010L197 1180L530 1409L696 1409L696 0Z" fill="#111" stroke="#111" stroke-width="45.0"/>
<text x="9.6" y="228.85" font-size="8.6" fill="#34549a" stroke="#34549a" stroke-width="0.2">ICE<tspan font-size="6.2" dx="0.3" dy="0.7">,</tspan><tspan dx="0.3" dy="-0.7">PBC</tspan><tspan font-size="4.5" dx="-0.4" dy="3.2" stroke-width="0">high</tspan></text>
<text x="75.25" y="228.85" font-size="9.1" text-anchor="end" stroke="#111" stroke-width="0.2">40</text>
<text x="97.55" y="228.85" font-size="9.1" text-anchor="end" stroke="#111" stroke-width="0.2">32</text>
<text x="119.25" y="228.85" font-size="9.1" text-anchor="end" stroke="#111" stroke-width="0.2">25</text>
<text x="142.65" y="228.85" font-size="9.1" text-anchor="end" stroke="#111" stroke-width="0.2">23</text>
<text x="164.45" y="228.85" font-size="9.1" text-anchor="end" stroke="#111" stroke-width="0.2" class="n1"> 2</text><path transform="translate(154.32,228.85) scale(0.004443,-0.004443)" d="M515 0L515 1237L197 1010L197 1180L530 1409L696 1409L696 0Z" fill="#111" stroke="#111" stroke-width="45.0"/>
<text x="185.25" y="228.85" font-size="9.1" text-anchor="end" stroke="#111" stroke-width="0.2">7</text>
<text x="207.55" y="228.85" font-size="9.1" text-anchor="end" stroke="#111" stroke-width="0.2">2</text>
</g>
<path d="M71.4 28.9V34H79.6V38.7H80.7V46.2H82V56.3H83.9V58H85V62.2H86.6V64.4H87.6V68.6H88.4V73.2H96.6V78.7H107.7V84.7H120.2V90.3H236.5" stroke="#a50d36" stroke-width="1.7" fill="none"/>
<path d="M71.4 28.9V32H72.5V36H73.5V40H74.8V43.5H76.4V47.8H77.2V52H78V56.7H82.8V60H84V64H85.5V68H87.5V72H89.5V76H90.6V90.1H94.6V97.3H97V100.2H103.3V103.3H110.5V109.8H114.8V112.7H126.8V118.9H170.1" stroke="#a50d36" stroke-width="1.7" fill="none" stroke-dasharray="3.7 2.3"/>
<path d="M71.4 28.9V30.1H86.4V34.3H88.8V37H92V39.6H94.1V42.5H96V45.4H97V51.4H98.2V55.6H104.5V57.4H108V59H110V60.8H110.8V64.6H112.9V66.5H116.7V69H197.4V73.7H239.6" stroke="#1f3b70" stroke-width="1.7" fill="none"/>
<path d="M71.4 28.9V34.6H80.5V37.5H83V41.5H85.5V45H87V49.3H92V51.2H96V54.5H100V55.6H106V57.4H112.4V60.8H119.5V63.2H122.5V65.6H129.4V68.1H156.9V71.5H177.2V77.3H185V83.7H218.7" stroke="#1f3b70" stroke-width="1.7" fill="none" stroke-dasharray="3.7 2.3"/>
<path d="M331.1 28.9V29.5H332V36.5H338V45.3H338.8V52.9H342.4V61H352.7V69.5H406.5V78.8H492.1" stroke="#a50d36" stroke-width="1.7" fill="none"/>
<path d="M331.1 28.9V31H331.7V33.4H333.5V36.5H335V39H336.5V42H337.6V49H338.5V56H339.5V64H340.3V72H341V87.3H342V93H342.8V98.8H344.6V104H346V108.5H347.5V111.5H349.6V114.6H372.3V119.9H378.5V124.7H426.6" stroke="#a50d36" stroke-width="1.7" fill="none" stroke-dasharray="3.7 2.3"/>
<path d="M331.1 28.9H335.3V30H338V31.5H339V33.4H342.6V34.7H343.9V36.8H345.3V38.6H346.4V42.4H347.5V44.5H349V46H350.6V59H352.7V69.8H361.9V74.6H367.5V76.9H496.9" stroke="#1f3b70" stroke-width="1.7" fill="none"/>
<path d="M331.1 28.9V31H332.5V34H334V37.5H335V39.5H339.9V44.2H342.6V46.4H346V48H350.6V52.2H358.8V55.3H359V60.5H362.4V62.5H365V65.6H369.1V67.2H371.7V68.7H376.3V70.2H386.3V73.7H427.7V84H474.8" stroke="#1f3b70" stroke-width="1.7" fill="none" stroke-dasharray="3.7 2.3"/>
<path d="M71.4 273.9V279.5H72.2V285H72.6V290.6H73V296.2H73.6V301.8H74.2V307.5H77.3V312.3H80.5V318.4H83.4V324.4H85.9V329.8H96.1V335.3H149.5V342H235" stroke="#a50d36" stroke-width="1.7" fill="none"/>
<path d="M71.4 273.9V285H72.2V300H73V315H73.6V330H74.4V344.7H80.3V351.4H81.6V357H83.2V361H84V364.5H86.5V368H120.5V371.2H122.5V374.3H163.8" stroke="#a50d36" stroke-width="1.7" fill="none" stroke-dasharray="3.7 2.3"/>
<path d="M71.4 273.9V276H72.5V278.5H74V281H75.5V283.5H77.8V286.2H86.6V290.8H89.5V293.5H90.5V297H91.5V300.5H92.5V304H93.5V307.5H95V312H96V316H97V320.3H105.7V324.8H110.6V327H239.8" stroke="#1f3b70" stroke-width="1.7" fill="none"/>
<path d="M71.4 273.9V278H72.5V282H73.5V286H74.5V290H75.5V294H77V297.6H79V300.3H81.6V303.3H98.2V307.5H99V311H100V314.9H108.7V319.9H111.2V321.9H121V324.5H130.4V327M166.8 327V331.3H170.5V335.8H213.8" stroke="#1f3b70" stroke-width="1.7" fill="none" stroke-dasharray="3.7 2.3"/>
<path d="M331.1 380.2H337.3V371.8H338.3V363.6H340.5V355.5H342.8V347.5H352.4V339H406.3V330.1H492.7" stroke="#a50d36" stroke-width="1.7" fill="none"/>
<path d="M331.1 380.2H337V372H338V364H338.8V356H339.5V349H340.3V342H341V335H342V328H344V322H346V316H347.4V312H348.3V309.2H371.7V303.9H379.4V298.7H418.8" stroke="#a50d36" stroke-width="1.7" fill="none" stroke-dasharray="3.7 2.3"/>
<path d="M331.1 380.2H333V377.5H336.5V375.9H342.7V373H345V370H346.5V367H347.8V364H348.7V361.5H349.5V359H350.6V356.5H352.3V353.8H353.5V351H354V348H361.2V344.2H363V342.5H368V340.8H496.3" stroke="#1f3b70" stroke-width="1.7" fill="none"/>
<path d="M331.1 380.2H333V376H334.5V372H335.5V368H337.8V362.3H339.3V361.1H346.1V358H349V356H352V354H355.2V351H365V348H368V346H371.7V343.3H387.1V341H425.4V336H427V330.1H474" stroke="#1f3b70" stroke-width="1.7" fill="none" stroke-dasharray="3.7 2.3"/>
</svg>
</body></html>
